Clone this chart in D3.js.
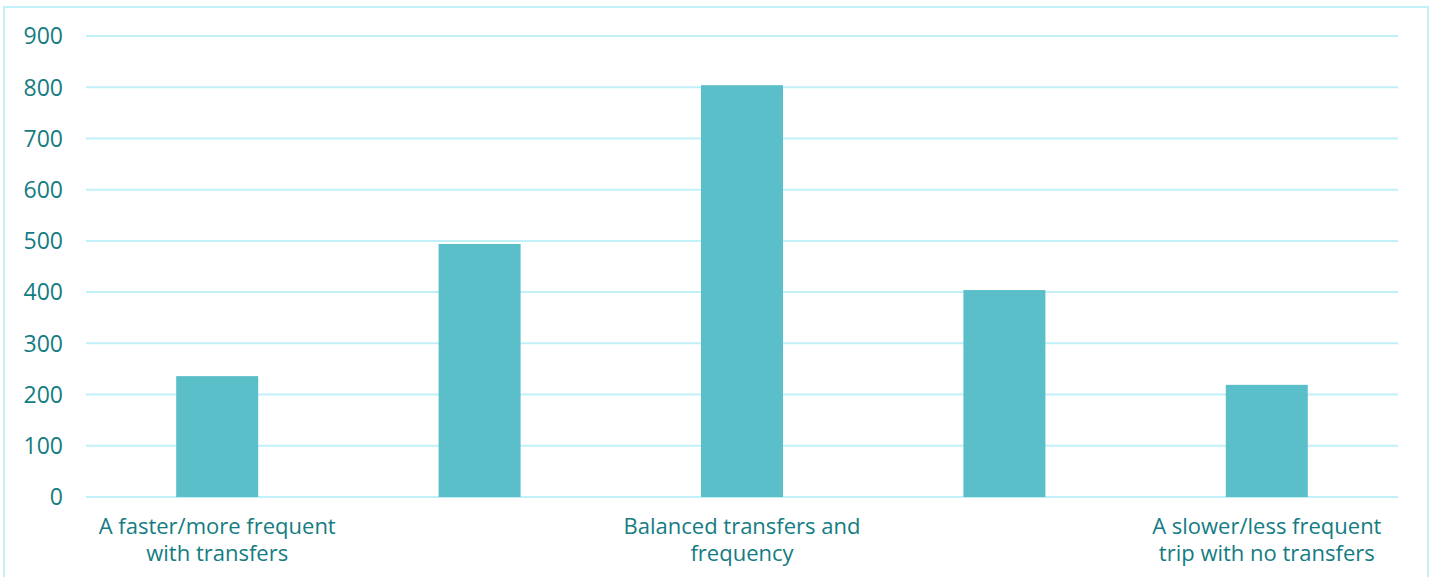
<!DOCTYPE html>
<html>
<head>
<meta charset="utf-8">
<script src="https://cdn.jsdelivr.net/npm/d3@7"></script>
<style>
  body { margin: 0; background: #fff; }
  text { font-family: "Open Sans", "Noto Sans", sans-serif; fill: #147c82; }
</style>
</head>
<body>
<script>
const width = 1437;
const height = 577;

const categories = ["1", "2", "3", "4", "5"];
const values = [236, 494, 804, 404, 219];
const tickLabels = [
	["A faster/more frequent", "with transfers"],
	[],
	["Balanced transfers and", "frequency"],
	[],
	["A slower/less frequent", "trip with no transfers"]
];
const yTicks = [0, 100, 200, 300, 400, 500, 600, 700, 800, 900];

const margin = {left: 86, right: 39, top: 36, bottom: 80};

const svg = d3.select("body")
	.append("svg")
	.attr("width", width)
	.attr("height", height);

// outer frame
svg.append("rect")
	.attr("x", 4)
	.attr("y", 7)
	.attr("width", 1424)
	.attr("height", 600)
	.attr("fill", "none")
	.attr("stroke", "#c2f0f8")
	.attr("stroke-width", 2);

const xScale = d3.scaleBand()
	.domain(categories)
	.range([margin.left, width - margin.right])
	.paddingInner(0.6875)
	.paddingOuter(0.34375);

const yScale = d3.scaleLinear()
	.domain([0, 900])
	.range([497, margin.top]);

// grid
svg.append("g")
	.selectAll("line")
	.data(yTicks)
	.enter()
	.append("line")
	.attr("x1", margin.left)
	.attr("x2", width - margin.right)
	.attr("y1", d => yScale(d))
	.attr("y2", d => yScale(d))
	.attr("stroke", "#c2f0f8")
	.attr("stroke-width", 2);

// y labels
svg.append("g")
	.selectAll("text")
	.data(yTicks)
	.enter()
	.append("text")
	.attr("x", 63)
	.attr("y", d => yScale(d))
	.attr("dy", "0.36em")
	.attr("text-anchor", "end")
	.attr("font-size", 23)
	.text(d => d);

// bars
svg.append("g")
	.selectAll("rect")
	.data(values)
	.enter()
	.append("rect")
	.attr("x", (d, i) => xScale(categories[i]))
	.attr("y", d => yScale(d))
	.attr("width", xScale.bandwidth())
	.attr("height", d => yScale(0) - yScale(d))
	.attr("fill", "#5bbfca");

// x labels
const lbl = svg.append("g")
	.selectAll("text")
	.data(tickLabels)
	.enter()
	.append("text")
	.attr("text-anchor", "middle")
	.attr("font-size", 22)
	.attr("y", 534);

lbl.selectAll("tspan")
	.data((d, i) => d.map(s => ({s: s, i: i})))
	.enter()
	.append("tspan")
	.attr("x", d => xScale(categories[d.i]) + xScale.bandwidth() / 2)
	.attr("dy", (d, j) => j === 0 ? 0 : 27)
	.text(d => d.s);
</script>
</body>
</html>
